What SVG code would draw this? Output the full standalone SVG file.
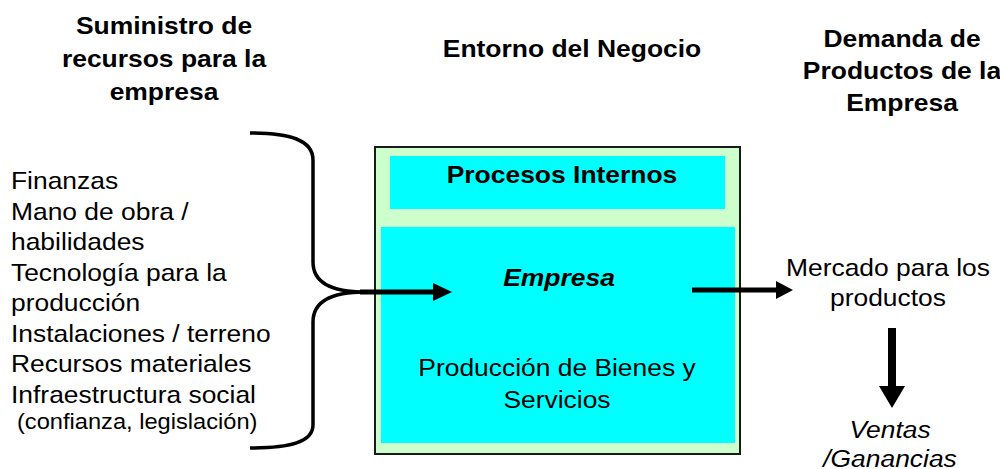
<svg xmlns="http://www.w3.org/2000/svg" width="1000" height="469" viewBox="0 0 1000 469">
<style>
text{font-family:"Liberation Sans",Arial,sans-serif;fill:#000}
.h{font-size:23px;font-weight:bold}
.t{font-size:24px}
.s{font-size:21.5px}
.bi{font-size:23px;font-weight:bold;font-style:italic}
.i{font-size:24px;font-style:italic}
.line{stroke:#000;fill:none}
</style>
<rect width="1000" height="469" fill="#fff"/>
<g id="heading-left" class="h" text-anchor="middle">
<text transform="translate(164,34) scale(1.15,1)">Suministro de</text>
<text transform="translate(164,67) scale(1.15,1)">recursos para la</text>
<text transform="translate(164,100) scale(1.15,1)">empresa</text>
</g>
<g id="heading-center" class="h" text-anchor="middle">
<text transform="translate(572,57) scale(1.15,1)">Entorno del Negocio</text>
</g>
<g id="heading-right" class="h" text-anchor="middle">
<text transform="translate(902,47) scale(1.15,1)">Demanda de</text>
<text transform="translate(902,79) scale(1.15,1)">Productos de la</text>
<text transform="translate(902,111) scale(1.15,1)">Empresa</text>
</g>
<g id="resources" class="t">
<text transform="translate(11,189) scale(1.1,1)">Finanzas</text>
<text transform="translate(11,219.5) scale(1.1,1)">Mano de obra /</text>
<text transform="translate(11,250) scale(1.1,1)">habilidades</text>
<text transform="translate(11,280.5) scale(1.1,1)">Tecnología para la</text>
<text transform="translate(11,311) scale(1.1,1)">producción</text>
<text transform="translate(11,341.5) scale(1.1,1)">Instalaciones / terreno</text>
<text transform="translate(11,372) scale(1.1,1)">Recursos materiales</text>
<text transform="translate(11,402.5) scale(1.1,1)">Infraestructura social</text>
<text class="s" transform="translate(17,429) scale(1.1,1)">(confianza, legislación)</text>
</g>
<g id="business-box">
<rect x="375" y="147" width="365" height="307" fill="#CCFFCC" stroke="#1a1a1a" stroke-width="2"/>
</g>
<g id="internal-processes">
<rect x="390" y="156" width="335" height="53" fill="#00FFFF"/>
<text class="h" text-anchor="middle" transform="translate(562,183) scale(1.15,1)">Procesos Internos</text>
</g>
<g id="company">
<rect x="381" y="227" width="354" height="216" fill="#00FFFF"/>
<text class="bi" text-anchor="middle" transform="translate(559,286) scale(1.15,1)">Empresa</text>
<text class="t" text-anchor="middle" transform="translate(557,376) scale(1.1,1)">Producción de Bienes y</text>
<text class="t" text-anchor="middle" transform="translate(557,408) scale(1.1,1)">Servicios</text>
</g>
<g id="market">
<text class="t" text-anchor="middle" transform="translate(888,276) scale(1.1,1)">Mercado para los</text>
<text class="t" text-anchor="middle" transform="translate(888,306) scale(1.1,1)">productos</text>
</g>
<g id="sales">
<text class="i" text-anchor="middle" transform="translate(890,438) scale(1.1,1)">Ventas</text>
<text class="i" text-anchor="middle" transform="translate(890,467) scale(1.1,1)">/Ganancias</text>
</g>
<g id="connectors">
<path class="line" stroke-width="3.5" d="M250,133 C290,133 313,140 313,160 L313,262 C313,282 330,292 365,292"/>
<path class="line" stroke-width="3.5" d="M365,292 C330,292 313,302 313,322 L313,425 C313,442 290,448 250,448"/>
<line x1="360" y1="292" x2="436" y2="292" stroke="#000" stroke-width="5"/>
<polygon points="433,283 452,292 433,301" fill="#000"/>
<line x1="692" y1="290" x2="779" y2="290" stroke="#000" stroke-width="5"/>
<polygon points="776,281 793,290 776,299" fill="#000"/>
<line x1="892" y1="328" x2="892" y2="388" stroke="#000" stroke-width="8"/>
<polygon points="879,386 905,386 892,408" fill="#000"/>
</g>
</svg>
